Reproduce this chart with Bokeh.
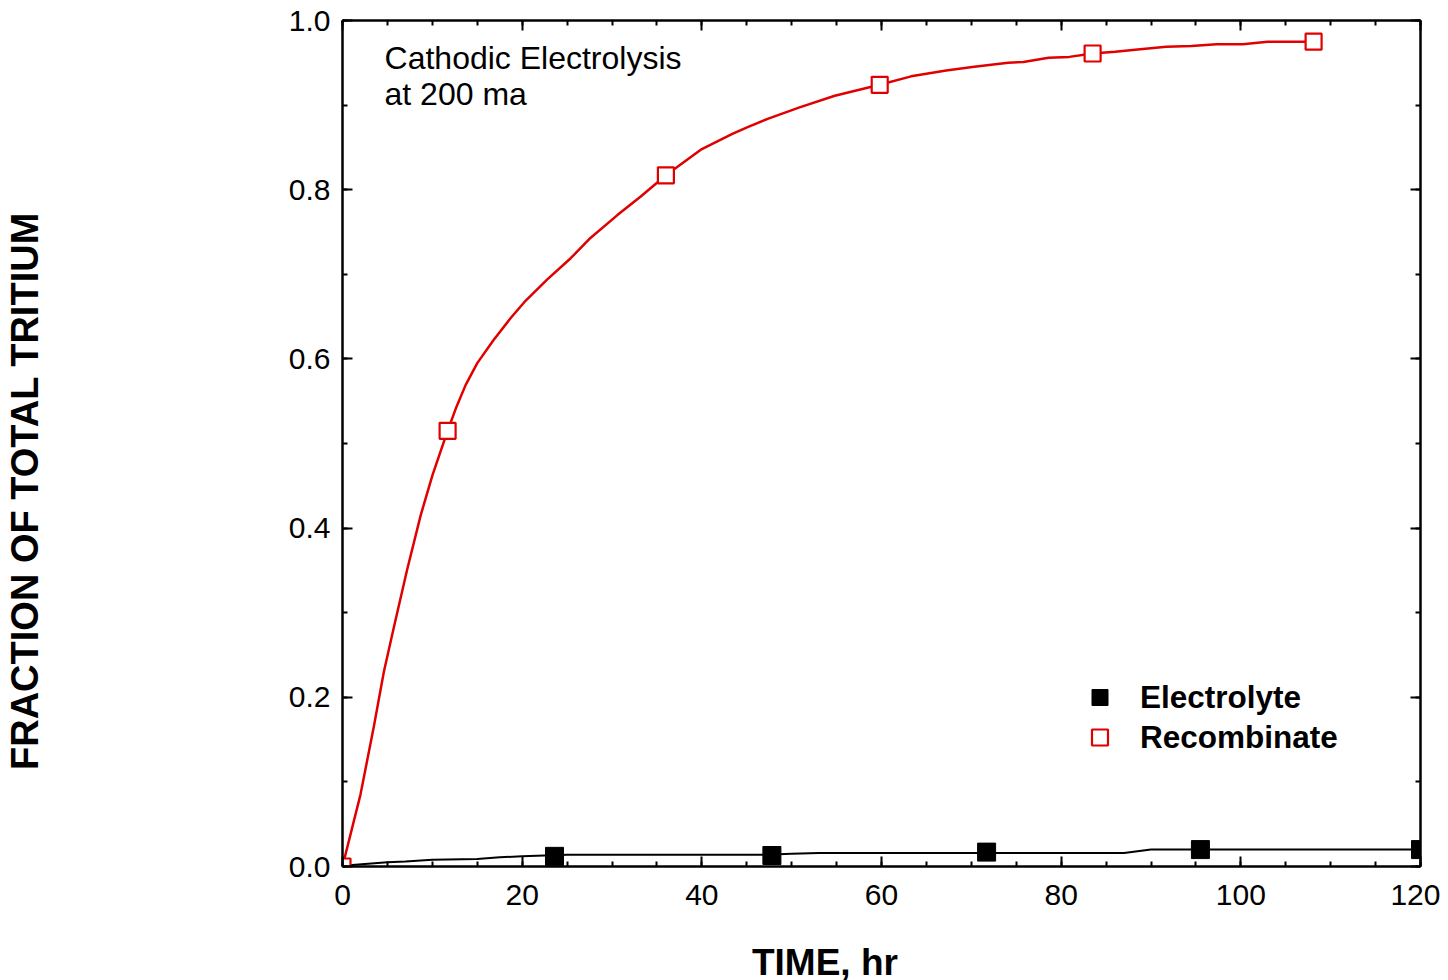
from bokeh.plotting import figure
from bokeh.models import (Range1d, LinearAxis, Label, Legend, LegendItem,
                          FixedTicker, PrintfTickFormatter)
from bokeh.embed import file_html
from bokeh.resources import INLINE

# ---- data ----
elec_t = [23.6, 47.8, 71.7, 95.5, 120]
elec_y = [0.012, 0.013, 0.017, 0.020, 0.020]

recomb_t = [0, 11.7, 36, 59.8, 83.5, 108.1]
recomb_y = [0.0, 0.515, 0.817, 0.924, 0.961, 0.975]

# fitted curves as drawn in the reference
elec_curve_t = [0, 5, 7, 10, 15, 17.5, 20, 22.5, 25, 47, 50, 53, 87, 90, 120]
elec_curve_y = [0.001, 0.005, 0.006, 0.008, 0.009, 0.011, 0.012, 0.013, 0.014,
                0.014, 0.015, 0.016, 0.016, 0.020, 0.020]

recomb_curve_t = [0, 2.0, 3.5, 4.6, 5.7, 7.2, 8.7, 10.0, 10.9, 11.7, 12.6, 13.7,
                  15.0, 16.8, 18.7, 20.4, 22.8, 25.4, 27.6, 30.6, 33.2, 36, 40,
                  43.4, 45.1, 47.4, 50.8, 54.8, 59.8, 63.3, 67.2, 70.1, 74.1,
                  75.8, 78.6, 80.9, 83.5, 86, 88.8, 91.7, 94.5, 97.3, 100.2,
                  103, 108.1]
recomb_curve_y = [0.0, 0.085, 0.166, 0.230, 0.282, 0.351, 0.415, 0.462, 0.490,
                  0.515, 0.541, 0.569, 0.595, 0.622, 0.648, 0.669, 0.694, 0.719,
                  0.743, 0.770, 0.792, 0.817, 0.848, 0.866, 0.874, 0.884, 0.897,
                  0.911, 0.924, 0.934, 0.941, 0.945, 0.950, 0.951, 0.956, 0.957,
                  0.961, 0.963, 0.966, 0.969, 0.970, 0.972, 0.972, 0.975, 0.975]

x_major = [0, 20, 40, 60, 80, 100, 120]
x_minor = [i * 5 for i in range(25)]
y_major = [0.0, 0.2, 0.4, 0.6, 0.8, 1.0]
y_minor = [i / 10 for i in range(11)]

series_names = ["Electrolyte", "Recombinate"]
annotation_lines = ["Cathodic Electrolysis", "at 200 ma"]
x_title = "TIME, hr"
y_title = "FRACTION OF TOTAL TRITIUM"

RED = "#e00000"
FONT = "Liberation Sans"
NBSP = "\u00a0"

p = figure(frame_width=1078, frame_height=846,
           x_range=Range1d(0, 120), y_range=Range1d(0, 1),
           output_backend="svg", toolbar_location=None,
           x_axis_location=None, y_axis_location=None,
           min_border_left=342, min_border_right=20, min_border_top=20,
           min_border_bottom=114)
p.grid.visible = False
p.outline_line_color = None
p.background_fill_color = "white"
p.border_fill_color = "white"


def make_axis(major, minor, labels, fmt):
    ax = LinearAxis(ticker=FixedTicker(ticks=major, minor_ticks=minor),
                    formatter=PrintfTickFormatter(format=fmt))
    ax.axis_line_width = 2.5
    ax.axis_line_color = "black"
    ax.major_tick_in = 10
    ax.major_tick_out = 0
    ax.minor_tick_in = 5
    ax.minor_tick_out = 0
    ax.major_tick_line_width = 2
    ax.minor_tick_line_width = 2
    if labels:
        ax.major_label_text_font = FONT
        ax.major_label_text_font_size = "30px"
        ax.major_label_text_color = "black"
    else:
        ax.major_label_text_font_size = "1px"
        ax.major_label_text_color = None
        ax.major_label_standoff = 0
    return ax


def title_axis(text, size, standoff):
    ax = LinearAxis(ticker=FixedTicker(ticks=[], minor_ticks=[]))
    ax.axis_line_color = None
    ax.major_tick_line_color = None
    ax.minor_tick_line_color = None
    ax.major_label_text_color = None
    ax.major_label_text_font_size = "1px"
    ax.major_label_standoff = 0
    ax.axis_label = text
    ax.axis_label_text_font = FONT
    ax.axis_label_text_font_size = size
    ax.axis_label_text_font_style = "bold"
    ax.axis_label_text_color = "black"
    ax.axis_label_standoff = standoff
    return ax


xb = make_axis(x_major, x_minor, True, "%d")
xb.major_label_standoff = 18
yl = make_axis(y_major, y_minor, True, "%.1f")
yl.major_label_standoff = 12
xa = make_axis(x_major, x_minor, False, "%d")
yr = make_axis(y_major, y_minor, False, "%.1f")
p.add_layout(xb, "below")
p.add_layout(yl, "left")
p.add_layout(xa, "above")
p.add_layout(yr, "right")

# axis titles: non-breaking spaces shift them off the frame centre as in the reference
p.add_layout(title_axis(x_title + NBSP * 11, "37px", 34), "below")
p.add_layout(title_axis(y_title + NBSP * 9, "38px", 240), "left")

# curves
p.line(elec_curve_t, elec_curve_y, line_color="black", line_width=2)
p.line(recomb_curve_t, recomb_curve_y, line_color=RED, line_width=2.5,
       line_join="round")

# markers
r_e = p.scatter(elec_t, elec_y, marker="square", size=18,
                fill_color="black", line_color="black")
r_r = p.scatter(recomb_t, recomb_y, marker="square", size=16,
                fill_color="white", line_color=RED, line_width=2.2)

legend = Legend(items=[LegendItem(label=series_names[0], renderers=[r_e]),
                       LegendItem(label=series_names[1], renderers=[r_r])],
                location=(735, 109), orientation="vertical",
                glyph_width=45, glyph_height=40, label_standoff=18,
                spacing=0, padding=0, margin=0,
                label_text_font=FONT, label_text_font_size="31.5px",
                label_text_font_style="bold", label_text_color="black",
                background_fill_alpha=0, border_line_color=None)
p.add_layout(legend)

# annotation text inside the plot
p.add_layout(Label(x=4.68, y=0.956, text=annotation_lines[0],
                   text_font=FONT, text_font_size="32px", text_color="black",
                   text_baseline="alphabetic", text_align="left"))
p.add_layout(Label(x=4.68, y=0.913, text=annotation_lines[1],
                   text_font=FONT, text_font_size="32px", text_color="black",
                   text_baseline="alphabetic", text_align="left"))

open("out.html", "w").write(file_html(p, INLINE))
